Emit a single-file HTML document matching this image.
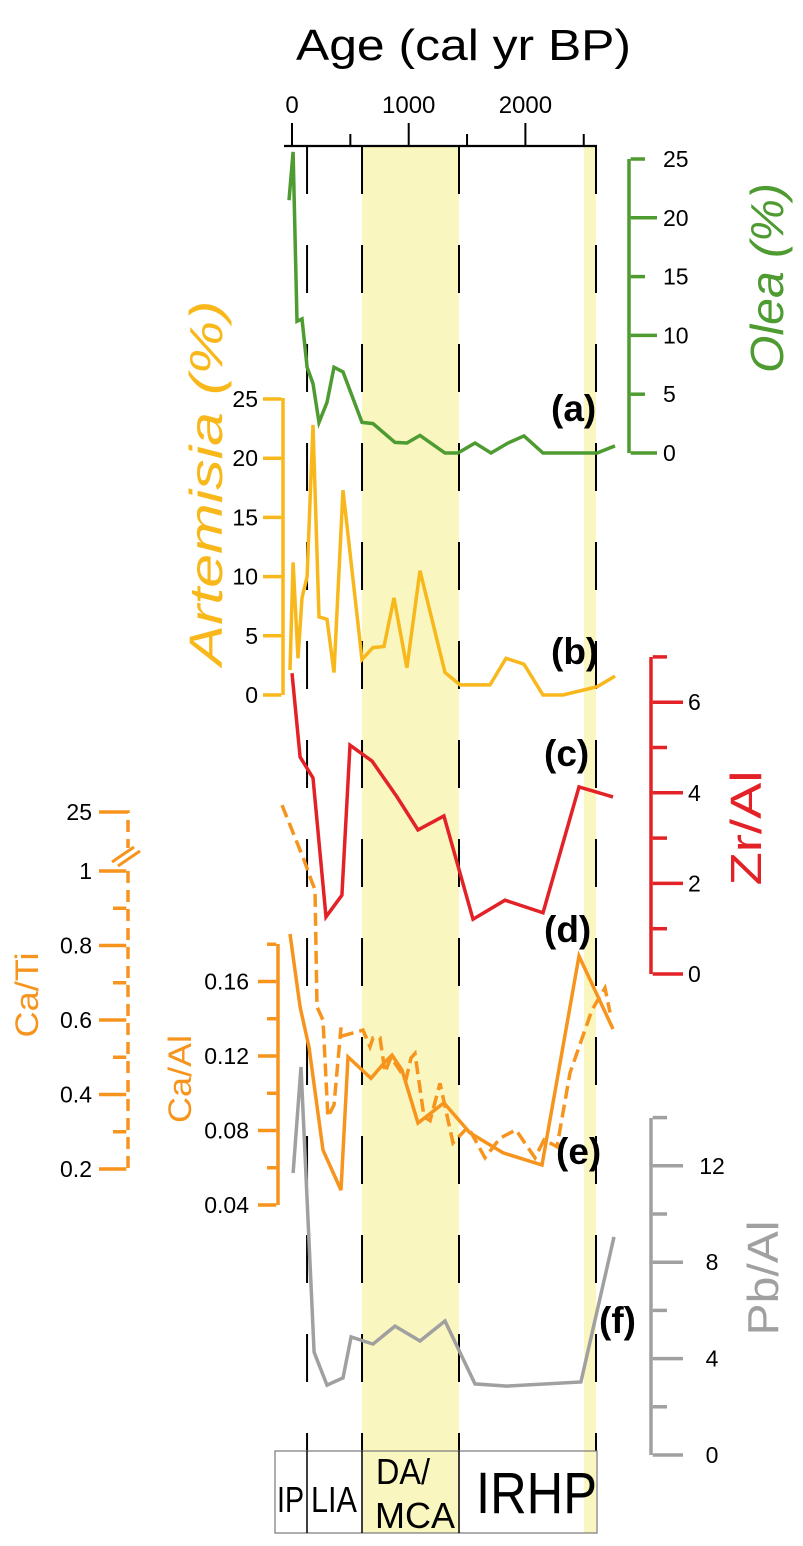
<!DOCTYPE html>
<html><head><meta charset="utf-8"><style>
html,body{margin:0;padding:0;background:#fff;}
svg{display:block;font-family:"Liberation Sans",Arial,sans-serif;}
</style></head><body>
<svg id="chart" width="803" height="1546" viewBox="0 0 803 1546" xmlns="http://www.w3.org/2000/svg">
<g id="bands"></g>
<g id="vlines"></g>
<g id="axes"></g>
<g id="series"></g>
<g id="labels">
  <text x="296" y="60" font-size="44" textLength="335" lengthAdjust="spacingAndGlyphs">Age (cal yr BP)</text>
  <text transform="translate(783,278) rotate(-90)" font-size="46" font-style="italic" fill="#4d9b31" text-anchor="middle" textLength="190" lengthAdjust="spacingAndGlyphs">Olea (%)</text>
  <text transform="translate(222,483) rotate(-90)" font-size="46" font-style="italic" fill="#f8b81c" text-anchor="middle" textLength="365" lengthAdjust="spacingAndGlyphs">Artemisia (%)</text>
  <text transform="translate(761,828) rotate(-90)" font-size="44" fill="#e32227" text-anchor="middle" textLength="115" lengthAdjust="spacingAndGlyphs">Zr/Al</text>
  <text transform="translate(778,1278) rotate(-90)" font-size="44" fill="#a0a0a0" text-anchor="middle" textLength="115" lengthAdjust="spacingAndGlyphs">Pb/Al</text>
  <text transform="translate(38,995) rotate(-90)" font-size="32" fill="#f7941d" text-anchor="middle" textLength="85" lengthAdjust="spacingAndGlyphs">Ca/Ti</text>
  <text transform="translate(191,1079) rotate(-90)" font-size="32" fill="#f7941d" text-anchor="middle" textLength="88" lengthAdjust="spacingAndGlyphs">Ca/Al</text>
  <text x="551" y="421" font-size="37" font-weight="bold">(a)</text>
  <text x="551" y="664" font-size="37" font-weight="bold">(b)</text>
  <text x="544" y="766" font-size="37" font-weight="bold">(c)</text>
  <text x="544" y="942" font-size="37" font-weight="bold">(d)</text>
  <text x="556" y="1164" font-size="37" font-weight="bold">(e)</text>
  <text x="599" y="1333" font-size="37" font-weight="bold">(f)</text>
</g>
<g id="periods">
  <rect x="275" y="1451" width="322" height="82" fill="none" stroke="#777" stroke-width="1.2"/>
  <line x1="307" y1="1451" x2="307" y2="1533" stroke="#000" stroke-width="1.5"/>
  <line x1="362" y1="1451" x2="362" y2="1533" stroke="#000" stroke-width="1.5"/>
  <line x1="459" y1="1451" x2="459" y2="1533" stroke="#000" stroke-width="1.5"/>
  <text x="277" y="1512" font-size="36" textLength="27" lengthAdjust="spacingAndGlyphs">IP</text>
  <text x="311" y="1512" font-size="36" textLength="46" lengthAdjust="spacingAndGlyphs">LIA</text>
  <text x="376" y="1484" font-size="36" textLength="54" lengthAdjust="spacingAndGlyphs">DA/</text>
  <text x="375" y="1528" font-size="36" textLength="80" lengthAdjust="spacingAndGlyphs">MCA</text>
  <text x="476" y="1513" font-size="58" textLength="121" lengthAdjust="spacingAndGlyphs">IRHP</text>
</g>
</svg>
<script>
// ---- data ----
const xTicks = [0, 1000, 2000];
const xMinorTicks = [500, 1500, 2500];
const bandStarts = [600, 2502];
const bandEnds = [1431, 2605];
const boundaryAges = [129, 600, 1431, 2605];

const oleaAge = [-26, 9, 43, 86, 129, 180, 231, 300, 360, 437, 600, 694, 883, 985, 1097, 1311, 1422, 1568, 1705, 1851, 1988, 2151, 2614, 2768];
const oleaVal = [21.5, 25.6, 11.2, 11.4, 7.3, 5.9, 2.6, 4.3, 7.3, 6.9, 2.6, 2.5, 0.9, 0.85, 1.5, 0, 0, 0.85, 0, 0.85, 1.45, 0, 0, 0.6];

const artAge = [-17, 9, 51, 86, 129, 180, 231, 300, 360, 437, 600, 694, 788, 874, 985, 1097, 1311, 1440, 1697, 1834, 1988, 2151, 2322, 2614, 2768];
const artVal = [2.1, 11.2, 3.1, 8.2, 10, 22.8, 6.6, 6.4, 1.9, 17.3, 3.0, 4.0, 4.1, 8.2, 2.3, 10.5, 1.9, 0.85, 0.85, 3.1, 2.6, 0, 0, 0.7, 1.6];

const zrAge = [0, 69, 180, 291, 428, 497, 686, 900, 1080, 1302, 1551, 1825, 2151, 2459, 2751];
const zrVal = [6.64, 4.79, 4.33, 1.26, 1.74, 5.05, 4.70, 3.91, 3.18, 3.49, 1.21, 1.63, 1.35, 4.13, 3.91];

const caAlAge = [-17, 69, 146, 266, 420, 480, 677, 797, 857, 943, 1080, 1302, 1525, 1808, 2142, 2459, 2751];
const caAlVal = [0.1855, 0.1463, 0.1248, 0.0695, 0.048, 0.1195, 0.108, 0.1168, 0.1205, 0.1125, 0.084, 0.0948, 0.0787, 0.068, 0.0615, 0.1737, 0.1345];

const caTiAge = [-86, 103, 171, 197, 214, 266, 308, 360, 420, 428, 608, 668, 694, 754, 797, 848, 977, 1020, 1054, 1131, 1183, 1268, 1380, 1508, 1654, 1782, 1919, 2082, 2159, 2271, 2382, 2571, 2682, 2725];
const caTiVal = [27.8, 5.5, 0.97, 0.95, 0.635, 0.6, 0.34, 0.372, 0.58, 0.557, 0.573, 0.528, 0.552, 0.552, 0.46, 0.50, 0.44, 0.498, 0.51, 0.34, 0.33, 0.43, 0.27, 0.313, 0.23, 0.283, 0.305, 0.23, 0.278, 0.26, 0.458, 0.627, 0.686, 0.62];

const pbAge = [9, 77, 189, 300, 437, 506, 694, 883, 1097, 1311, 1568, 1842, 2476, 2759];
const pbVal = [11.7, 16.1, 4.27, 2.9, 3.2, 4.9, 4.6, 5.35, 4.73, 5.56, 2.95, 2.86, 3.03, 9.05];

const oleaTicks = [0, 5, 10, 15, 20, 25];
const artTicks = [0, 5, 10, 15, 20, 25];
const zrTicks = [0, 1, 2, 3, 4, 5, 6, 7];
const zrTickLabels = [0, 2, 4, 6];
const pbTicks = [0, 2, 4, 6, 8, 10, 12, 14];
const pbTickLabels = [0, 4, 8, 12];
const caTiTicks = [0.2, 0.3, 0.4, 0.5, 0.6, 0.7, 0.8, 0.9, 1];
const caTiTickLabels = [0.2, 0.4, 0.6, 0.8, 1];
const caAlTicks = [0.04, 0.06, 0.08, 0.10, 0.12, 0.14, 0.16, 0.18];
const caAlTickLabels = ["0.04", "0.08", "0.12", "0.16"];

// ---- scales ----
const xA = a => 292 + a * 0.1167;
const yOlea = v => 453 - v * 11.76;
const yArt = v => 695 - v * 11.84;
const yZr = v => 974 - v * 45.3;
const yPb = v => 1455 - v * 24.1;
const yCaAl = v => 1205 - (v - 0.04) * 1862.5;
const yCaTi = v => v <= 1 ? 1169 - (v - 0.2) * 372.5 : 871 - (v - 1) * 59 / 24;

const NS = "http://www.w3.org/2000/svg";
function mk(parent, tag, attrs) {
  const el = document.createElementNS(NS, tag);
  for (const k in attrs) el.setAttribute(k, attrs[k]);
  parent.appendChild(el);
  return el;
}
const bands = document.getElementById('bands');
const vlines = document.getElementById('vlines');
const axes = document.getElementById('axes');
const series = document.getElementById('series');

bandStarts.forEach((s, i) => {
  const r = mk(bands, 'rect', {x: xA(s), y: 146, width: xA(bandEnds[i]) - xA(s), height: 1387, fill: '#f9f6bf'});
  
  
});
boundaryAges.forEach(a => {
  const l = mk(vlines, 'line', {x1: xA(a), y1: 146, x2: xA(a), y2: 1451, stroke: '#000', 'stroke-width': 2, 'stroke-dasharray': '48 51'});
  
  
});

// top axis
let ln = mk(axes, 'line', {x1: 284, y1: 146, x2: 597, y2: 146, stroke: '#000', 'stroke-width': 2.2});


xTicks.forEach(t => {
  const l = mk(axes, 'line', {x1: xA(t), y1: 123, x2: xA(t), y2: 146, stroke: '#000', 'stroke-width': 2});
  
  
  const tx = mk(axes, 'text', {x: xA(t), y: 113, 'font-size': 24, 'text-anchor': 'middle'});
  tx.textContent = t;
  
  
});
xMinorTicks.forEach(t => {
  const l = mk(axes, 'line', {x1: xA(t), y1: 134, x2: xA(t), y2: 146, stroke: '#000', 'stroke-width': 2});
  
  
});

function vAxis(name, x, y0, y1, color, ticks, isMajor, dir, majLen, minLen, labels, yf, lx, anchor, dash) {
  const g = mk(axes, 'g', {});
  
  
  const a = mk(g, 'line', {x1: x, y1: y0, x2: x, y2: y1, stroke: color, 'stroke-width': 3.5});
  if (dash) a.setAttribute('stroke-dasharray', dash);
  
  
  ticks.forEach(t => {
    const len = isMajor(t) ? majLen : minLen;
    const l = mk(g, 'line', {x1: x - (dir < 0 ? 1.7 : -1.7), y1: yf(t), x2: x + dir * len, y2: yf(t), stroke: color, 'stroke-width': 3.5});
    
    
  });
  labels.forEach(t => {
    const tx = mk(g, 'text', {x: lx, y: yf(+t) + 8, 'font-size': 23, 'text-anchor': anchor});
    tx.textContent = t;
    
    
  });
}
vAxis('olea-axis', 629, 159, 453, '#4d9b31', oleaTicks, t => t % 10 === 0, 1, 28, 16, oleaTicks, yOlea, 663, 'start');
vAxis('artemisia-axis', 283, 398, 695, '#f8b81c', artTicks, t => true, -1, 20, 20, artTicks, yArt, 258, 'end');
vAxis('zr-al-axis', 651, 657, 974, '#e32227', zrTicks, t => t % 2 === 0, 1, 32, 16, zrTickLabels, yZr, 688, 'start');
vAxis('pb-al-axis', 651, 1118, 1455, '#a0a0a0', pbTicks, t => t % 4 === 0, 1, 32, 16, pbTickLabels, yPb, 712, 'middle');
vAxis('ca-al-axis', 278, 944, 1205, '#f7941d', caAlTicks, t => [0.04,0.08,0.12,0.16].some(m => Math.abs(m - t) < 1e-6), -1, 20, 11, caAlTickLabels, yCaAl, 249, 'end');
vAxis('ca-ti-axis', 128, 871, 1169, '#f7941d', caTiTicks, t => [0.2,0.4,0.6,0.8,1].some(m => Math.abs(m - t) < 1e-6), -1, 29, 15, caTiTickLabels, yCaTi, 92, 'end', '12 7');
// Ca/Ti broken top segment
const g2 = mk(axes, 'g', {});


let l2 = mk(g2, 'path', {d: 'M99 812 H128 V848', fill: 'none', stroke: '#f7941d', 'stroke-width': 3.5, 'stroke-dasharray': '30 7 12 7'});


let l3 = mk(g2, 'path', {d: 'M112 862 L134 847 M118 866 L140 851', stroke: '#f7941d', 'stroke-width': 3});


let t25 = mk(g2, 'text', {x: 92, y: 820, 'font-size': 23, 'text-anchor': 'end'});
t25.textContent = '25';



function line(name, ages, vals, yf, color, dash) {
  const d = ages.map((a, i) => (i ? 'L' : 'M') + xA(a).toFixed(1) + ' ' + yf(vals[i]).toFixed(1)).join(' ');
  const p = mk(series, 'path', {d: d, fill: 'none', stroke: color, 'stroke-width': 3.5, 'stroke-linejoin': 'miter'});
  if (dash) p.setAttribute('stroke-dasharray', dash);
  
  
}
line('olea-line', oleaAge, oleaVal, yOlea, '#4d9b31');
line('artemisia-line', artAge, artVal, yArt, '#f8b81c');
line('zr-al-line', zrAge, zrVal, yZr, '#e32227');
line('pb-al-line', pbAge, pbVal, yPb, '#a0a0a0');
line('ca-ti-line', caTiAge, caTiVal, yCaTi, '#f7941d', '13 6');
line('ca-al-line', caAlAge, caAlVal, yCaAl, '#f7941d');
</script>
</body></html>
